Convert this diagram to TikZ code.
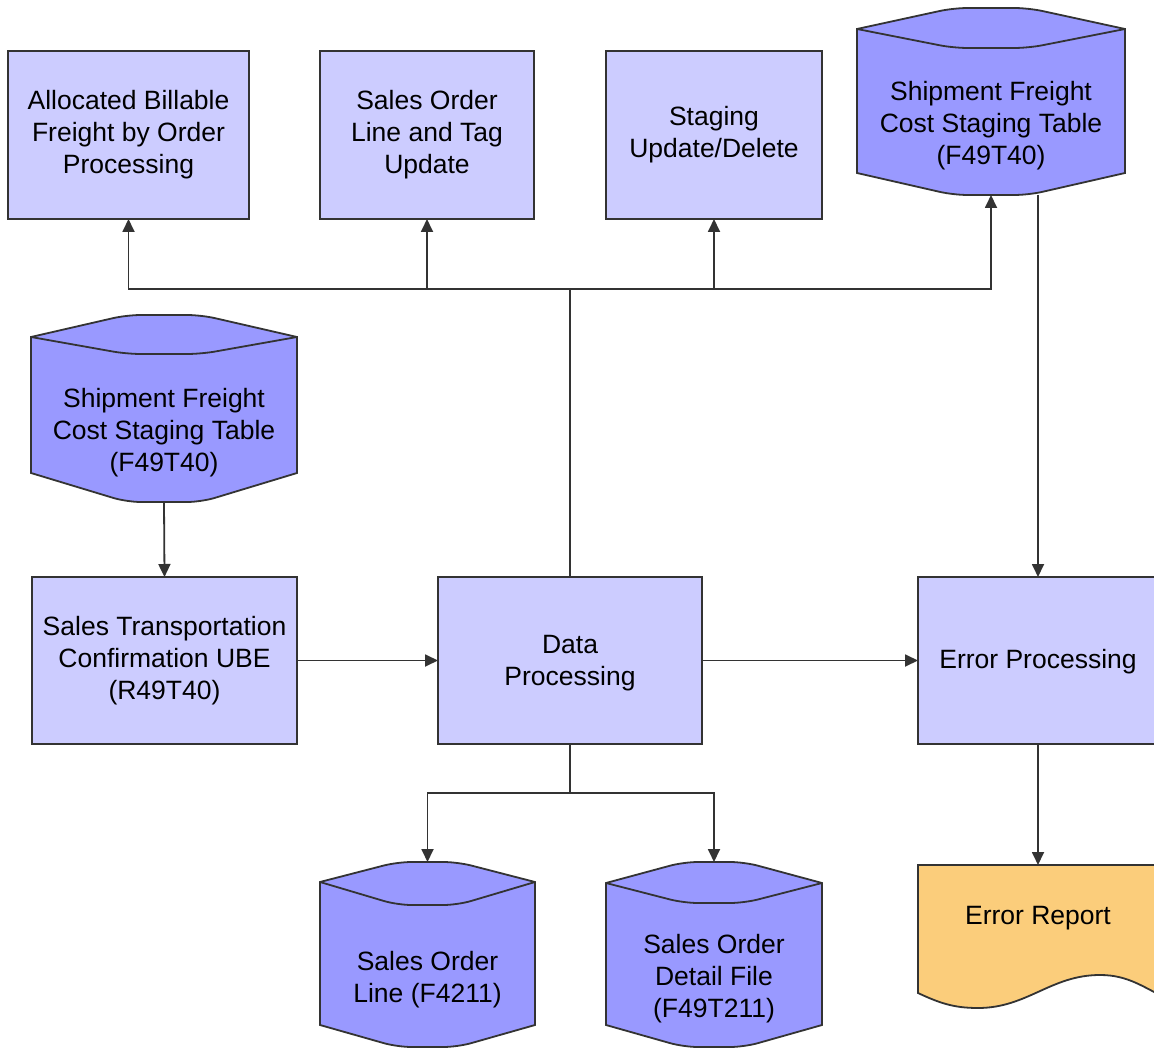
\documentclass[tikz,border=0pt]{standalone}
\usepackage{fontspec}
\setmainfont{Liberation Sans}
\usetikzlibrary{arrows.meta}
\definecolor{boxfill}{HTML}{CCCCFF}
\definecolor{cylfill}{HTML}{9999FF}
\definecolor{repfill}{HTML}{FBCD7B}
\definecolor{linec}{HTML}{333333}
\tikzset{
  procbox/.style={draw=linec, fill=boxfill, line width=1.8pt, inner sep=0pt, outer sep=0pt},
  cylshape/.style={draw=linec, fill=cylfill, line width=1.8pt},
  cylline/.style={draw=linec, line width=1.8pt},
  txt/.style={align=center, inner sep=0pt, font=\fontsize{26.5}{32}\selectfont, text=black},
  conn/.style={draw=linec, line width=1.8pt},
  arr/.style={conn, -{Triangle[length=13pt,width=12pt]}},
}
\newcommand{\dbcyl}[8]{%
  \pgfmathsetmacro\cxa{#2+0.36*(#3-#2)}%
  \pgfmathsetmacro\cxb{#2+0.64*(#3-#2)}%
  \path[cylshape] (#2,#5) [rounded corners=14pt] -- (\cxa,#4) -- (\cxb,#4) [sharp corners] -- (#3,#5) -- (#3,#7)
     [rounded corners=14pt] -- (\cxb,#8) -- (\cxa,#8) [sharp corners] -- (#2,#7) -- cycle;
  \draw[cylline] (#2,#5) [rounded corners=14pt] -- (\cxa,#6) -- (\cxb,#6) [sharp corners] -- (#3,#5);
  \node[inner sep=0pt, outer sep=0pt, minimum width={#3-#2}, minimum height={#8-#4}] (#1) at ({(#2+#3)/2},{(#4+#8)/2}) {};
}
\begin{document}
\begin{tikzpicture}[x=1pt,y=-1pt]
\useasboundingbox (0,0) rectangle (1154,1048);
\clip (0,0) rectangle (1154,1048);
\fill[white] (0,0) rectangle (1154,1048);

% top row boxes
\node[procbox, minimum width=241pt, minimum height=168pt] (a1) at (128.5,135) {};
\node[txt] at (a1) {Allocated Billable\\Freight by Order\\Processing};
\node[procbox, minimum width=214pt, minimum height=168pt] (a2) at (427,135) {};
\node[txt] at (a2) {Sales Order\\Line and Tag\\Update};
\node[procbox, minimum width=216pt, minimum height=168pt] (a3) at (714,135) {};
\node[txt] at (a3) {Staging\\Update/Delete};

% cylinders
\dbcyl{ctr}{857}{1125}{8}{29}{48}{173}{195}
\node[txt] (ctrt) at (991,126) {Shipment Freight\\Cost Staging Table\\(F49T40)};
\dbcyl{cl}{31}{297}{315}{337}{354}{473}{502}
\node[txt] (clt) at (164,433) {Shipment Freight\\Cost Staging Table\\(F49T40)};
\dbcyl{cb1}{320}{535}{862}{882}{905}{1025}{1047}
\node[txt] (cb1t) at (427.5,980) {Sales Order\\Line (F4211)};
\dbcyl{cb2}{606}{822}{862}{883}{903}{1025}{1047}
\node[txt] (cb2t) at (714,979) {Sales Order\\Detail File\\(F49T211)};

% middle row
\node[procbox, minimum width=265pt, minimum height=167pt] (stc) at (164.5,660.5) {};
\node[txt] at (stc) {Sales Transportation\\Confirmation UBE\\(R49T40)};
\node[procbox, minimum width=264pt, minimum height=167pt] (dp) at (570,660.5) {};
\node[txt] at (570,663) {Data\\Processing};
\node[procbox, minimum width=240pt, minimum height=167pt] (ep) at (1038,660.5) {};
\node[txt] at (1038,662) {Error Processing};

% error report
\path[draw=linec, fill=repfill, line width=1.8pt] (918,993) -- (918,865) -- (1170,865) -- (1170,1000)
  to[out=155,in=0] (1100,975) to[out=180,in=0] (978,1008) to[out=180,in=-25] (918,993) -- cycle;
\node[inner sep=0pt, outer sep=0pt, minimum width=240pt, minimum height=10pt, anchor=north] (er) at (1038,865) {};
\node[txt] (ert) at (1038,918) {Error Report};

% connectors
\coordinate (busT) at (570,289);
\coordinate (busB) at (570,793);
\draw[arr] (dp.north) -- (busT) -| (a1.south);
\draw[arr] (dp.north) -- (busT) -| (a2.south);
\draw[arr] (dp.north) -- (busT) -| (a3.south);
\draw[arr] (dp.north) -- (busT) -| (ctr.south);
\draw[arr] (cl.south) -- (stc.north);
\draw[arr] (stc.east) -- (dp.west);
\draw[arr] (dp.east) -- (ep.west);
\draw[arr] (ctr.south -| ep.north) -- (ep.north);
\draw[arr] (dp.south) -- (busB) -| (cb1.north);
\draw[arr] (dp.south) -- (busB) -| (cb2.north);
\draw[arr] (ep.south) -- (er.north);
\end{tikzpicture}
\end{document}
